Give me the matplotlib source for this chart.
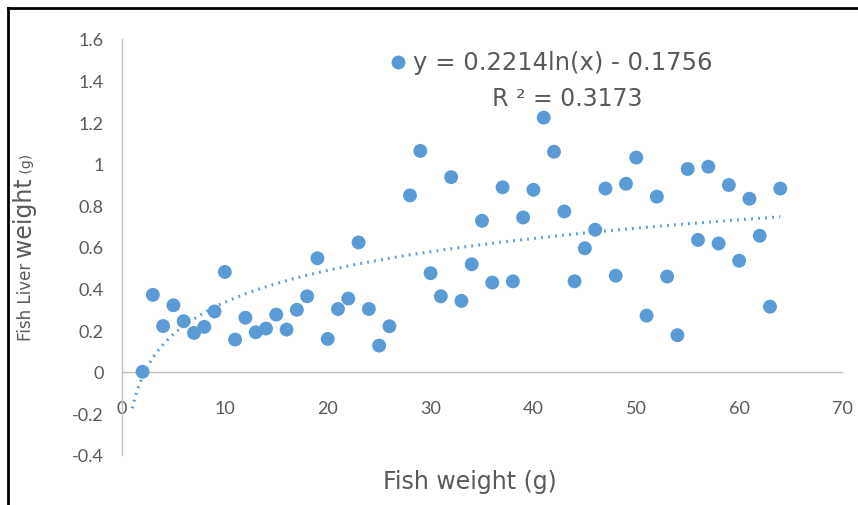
import numpy as np
import matplotlib.pyplot as plt
from matplotlib.lines import Line2D

# dane
x_masa = [2, 3, 4, 5, 6, 7, 8, 9, 10, 11, 12, 13, 14, 15, 16, 17, 18, 19, 20,
          21, 22, 23, 24, 25, 26, 28, 29, 30, 31, 32, 33, 34, 35, 36, 37, 38,
          39, 40, 41, 42, 43, 44, 45, 46, 47, 48, 49, 50, 51, 52, 53, 54, 55,
          56, 57, 58, 59, 60, 61, 62, 63, 64]
y_watroba = [0.0, 0.37, 0.22, 0.32, 0.243, 0.187, 0.216, 0.29, 0.48, 0.155,
             0.26, 0.19, 0.208, 0.275, 0.203, 0.298, 0.363, 0.546, 0.158,
             0.302, 0.352, 0.622, 0.302, 0.126, 0.219, 0.848, 1.062, 0.474,
             0.363, 0.936, 0.341, 0.517, 0.726, 0.429, 0.887, 0.435, 0.742,
             0.875, 1.222, 1.058, 0.771, 0.435, 0.594, 0.683, 0.881, 0.462,
             0.904, 1.03, 0.27, 0.842, 0.458, 0.176, 0.975, 0.634, 0.986,
             0.617, 0.898, 0.534, 0.832, 0.654, 0.313, 0.881]
a_trend = 0.2214
b_trend = -0.1756
r2 = 0.3173
y_ticks = [-0.4, -0.2, 0, 0.2, 0.4, 0.6, 0.8, 1, 1.2, 1.4, 1.6]
x_ticks = [0, 10, 20, 30, 40, 50, 60, 70]

niebieski = "#5B9BD5"
szary = "#595959"

fig = plt.figure(figsize=(8.58, 5.06), dpi=100)
ax = fig.add_axes([122 / 858, 1 - 456 / 506, 720 / 858, 416 / 506])

ax.scatter(x_masa, y_watroba, s=100, color=niebieski, edgecolors="none", zorder=3)

xt = np.linspace(1, 64, 300)
ax.plot(xt, a_trend * np.log(xt) + b_trend, color=niebieski, lw=2.2,
        dashes=(0.6, 1.7), zorder=2)

ax.set_xlim(0, 70)
ax.set_ylim(-0.4, 1.6)
ax.set_xticks(x_ticks)
ax.set_yticks(y_ticks)
ax.set_xticklabels([str(v) for v in x_ticks])
ax.set_yticklabels(["%g" % v for v in y_ticks])

for s in ["top", "right"]:
    ax.spines[s].set_visible(False)
ax.spines["bottom"].set_position(("data", 0))
ax.spines["left"].set_position(("data", 0))
for s in ["bottom", "left"]:
    ax.spines[s].set_color("#BFBFBF")
    ax.spines[s].set_linewidth(1.0)

ax.tick_params(axis="x", length=0, pad=20, labelsize=13, labelcolor=szary)
ax.tick_params(axis="y", length=0, pad=13, labelsize=13, labelcolor=szary)
for lab in ax.get_xticklabels() + ax.get_yticklabels():
    lab.set_family("Lato")

# legenda z rownaniem trendu
fig.lines.append(Line2D([398 / 858], [1 - 63 / 506], marker="o", markersize=10,
                        color=niebieski, markeredgewidth=0, transform=fig.transFigure))
fig.text(413 / 858, 1 - 63 / 506, "y = 0.2214ln(x) - 0.1756", fontsize=17.5,
         color=szary, va="center", ha="left")
fig.text(567 / 858, 1 - 99 / 506, "R ² = 0.3173", fontsize=17,
         color=szary, va="center", ha="center")

# opisy osi
fig.text(470 / 858, 1 - 482 / 506, "Fish weight (g)", fontsize=17,
         color=szary, va="center", ha="center")

# os y - rozne rozmiary czcionki
fig.canvas.draw()
rend = fig.canvas.get_renderer()
czesci = [("Fish Liver ", 12), ("weight", 17), (" (g)", 10)]
y_pix = 341
for tekst, rozm in czesci:
    t = fig.text(31 / 858, 1 - y_pix / 506, tekst, fontsize=rozm, color=szary,
                 rotation=90, va="baseline", ha="left",
                 rotation_mode="anchor")
    bb = t.get_window_extent(rend)
    y_pix -= bb.height

# ramka
fig.lines.append(Line2D([8 / 858, 8 / 858], [0, 1 - 9 / 506], color="black", lw=2,
                        transform=fig.transFigure))
fig.lines.append(Line2D([8 / 858, 1], [1 - 9 / 506, 1 - 9 / 506], color="black", lw=2,
                        transform=fig.transFigure))

fig.savefig("out.png", dpi=100)
